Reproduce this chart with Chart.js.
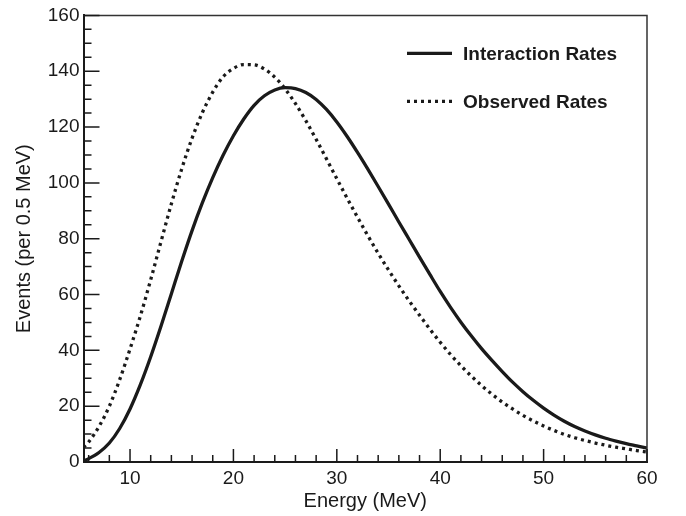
<!DOCTYPE html>
<html>
<head>
<meta charset="utf-8">
<script src="https://cdn.jsdelivr.net/npm/chart.js@4/dist/chart.umd.min.js"></script>
<style>
  html, body { margin: 0; padding: 0; background: #fff; }
  #wrap { width: 686px; height: 516px; }
</style>
</head>
<body>
<div id="wrap"><canvas id="myChart" width="686" height="516"></canvas></div>
<script>
// Energy grid (MeV) and the two spectra
const energy = [5.5, 6, 7, 8, 9, 10, 11, 12, 13, 14, 15, 16, 17, 18, 19, 20,
  21, 22, 23, 24, 25, 26, 27, 28, 29, 30, 31, 32, 33, 34, 35, 36, 37, 38, 39, 40,
  41, 42, 43, 44, 45, 46, 47, 48, 49, 50, 51, 52, 53, 54, 55, 56, 57, 58, 59, 60];

const interactionRates = [0.4, 1.2, 3.4, 6.8, 12.0, 19.0, 27.7, 37.7, 48.7, 60.3, 71.9, 82.9, 92.9, 101.9, 109.9, 116.9,
  122.9, 127.8, 131.2, 133.3, 134.1, 133.8, 132.4, 129.9, 126.3, 121.8, 116.6, 110.9, 104.9, 98.7, 92.4, 86.0, 79.7, 73.4, 67.2, 61.1,
  55.4, 50.1, 45.2, 40.6, 36.4, 32.4, 28.6, 25.2, 22.1, 19.3, 16.8, 14.6, 12.7, 11.1, 9.7, 8.5, 7.5, 6.6, 5.8, 5.0];

const observedRates = [5.3, 7.2, 12.7, 20.0, 29.5, 40.5, 52.3, 65.3, 79.0, 92.5, 105.0, 116.0, 125.2, 132.5, 138.0, 141.0,
  142.4, 142.3, 140.8, 137.9, 133.7, 128.4, 122.3, 115.6, 108.6, 101.5, 94.5, 87.7, 81.1, 74.8, 68.8, 63.1, 57.7, 52.6, 47.6, 42.9,
  38.5, 34.5, 30.8, 27.4, 24.3, 21.5, 19.0, 16.7, 14.7, 12.9, 11.3, 9.9, 8.7, 7.7, 6.8, 6.0, 5.3, 4.7, 4.1, 3.6];

const seriesLabels = ['Interaction Rates', 'Observed Rates'];
const xTickValues = [10, 20, 30, 40, 50, 60];
const yTickValues = [0, 20, 40, 60, 80, 100, 120, 140, 160];

const FONT = "'Liberation Sans', Arial, Helvetica, sans-serif";
const INK = '#1a1a1a';

// ROOT-like frame: inward ticks, thin top/right border, legend inside the pad
const rootStyle = {
  id: 'rootStyle',
  afterDatasetsDraw(chart) {
    const { ctx, chartArea: a, scales: { x, y } } = chart;
    ctx.save();

    ctx.strokeStyle = '#333';
    ctx.lineWidth = 1.5;
    ctx.beginPath();
    ctx.moveTo(a.left, a.top);
    ctx.lineTo(a.right, a.top);
    ctx.lineTo(a.right, a.bottom);
    ctx.stroke();

    ctx.strokeStyle = INK;
    ctx.lineWidth = 1.5;
    ctx.beginPath();
    for (let v = 6; v <= 60; v += 2) {
      const px = x.getPixelForValue(v);
      const len = v % 10 === 0 ? 13 : 7;
      ctx.moveTo(px, a.bottom);
      ctx.lineTo(px, a.bottom - len);
    }
    for (let v = 0; v <= 160; v += 5) {
      const py = y.getPixelForValue(v);
      const len = v % 20 === 0 ? 16 : 8;
      ctx.moveTo(a.left, py);
      ctx.lineTo(a.left + len, py);
    }
    ctx.stroke();

    // legend
    const lx = a.right - 240;
    chart.data.datasets.forEach((ds, i) => {
      const ly = a.top + 38 + i * 48;
      ctx.strokeStyle = ds.borderColor;
      ctx.lineWidth = ds.borderWidth;
      ctx.setLineDash(ds.borderDash || []);
      ctx.beginPath();
      ctx.moveTo(lx, ly);
      ctx.lineTo(lx + 45, ly);
      ctx.stroke();
      ctx.setLineDash([]);
      ctx.fillStyle = INK;
      ctx.font = 'bold 19px ' + FONT;
      ctx.textBaseline = 'middle';
      ctx.textAlign = 'left';
      ctx.fillText(ds.label, lx + 56, ly + 1);
    });
    ctx.restore();
  }
};

const ctx = document.getElementById('myChart').getContext('2d');
new Chart(ctx, {
  type: 'line',
  data: {
    datasets: [
      {
        label: seriesLabels[0],
        data: energy.map((e, i) => ({ x: e, y: interactionRates[i] })),
        borderColor: INK,
        borderWidth: 3.3,
        pointRadius: 0,
        cubicInterpolationMode: 'monotone',
        fill: false
      },
      {
        label: seriesLabels[1],
        data: energy.map((e, i) => ({ x: e, y: observedRates[i] })),
        borderColor: INK,
        borderWidth: 3.3,
        borderDash: [3, 4],
        pointRadius: 0,
        cubicInterpolationMode: 'monotone',
        fill: false
      }
    ]
  },
  options: {
    responsive: false,
    animation: false,
    devicePixelRatio: 1,
    layout: { padding: { left: 0, right: 39, top: 14, bottom: 0 } },
    plugins: { legend: { display: false }, tooltip: { enabled: false } },
    scales: {
      x: {
        type: 'linear',
        min: 5.5,
        max: 60,
        afterFit: s => { s.height = 54; },
        afterBuildTicks: s => { s.ticks = xTickValues.map(v => ({ value: v })); },
        grid: { display: false, drawTicks: false },
        border: { display: true, color: INK, width: 2 },
        ticks: { color: INK, padding: 5, maxRotation: 0, font: { family: FONT, size: 19 } },
        title: {
          display: true,
          text: 'Energy (MeV)',
          color: INK,
          font: { family: FONT, size: 20 },
          padding: { top: 0, bottom: 3 }
        }
      },
      y: {
        min: 0,
        max: 160,
        afterFit: s => { s.width = 83.5; },
        afterBuildTicks: s => { s.ticks = yTickValues.map(v => ({ value: v })); },
        grid: { display: false, drawTicks: false },
        border: { display: true, color: INK, width: 2 },
        ticks: { color: INK, padding: 4, font: { family: FONT, size: 19 } },
        title: {
          display: true,
          text: 'Events (per 0.5 MeV)',
          color: INK,
          font: { family: FONT, size: 20 },
          padding: { top: 12, bottom: 0 }
        }
      }
    }
  },
  plugins: [rootStyle]
});
</script>
</body>
</html>
